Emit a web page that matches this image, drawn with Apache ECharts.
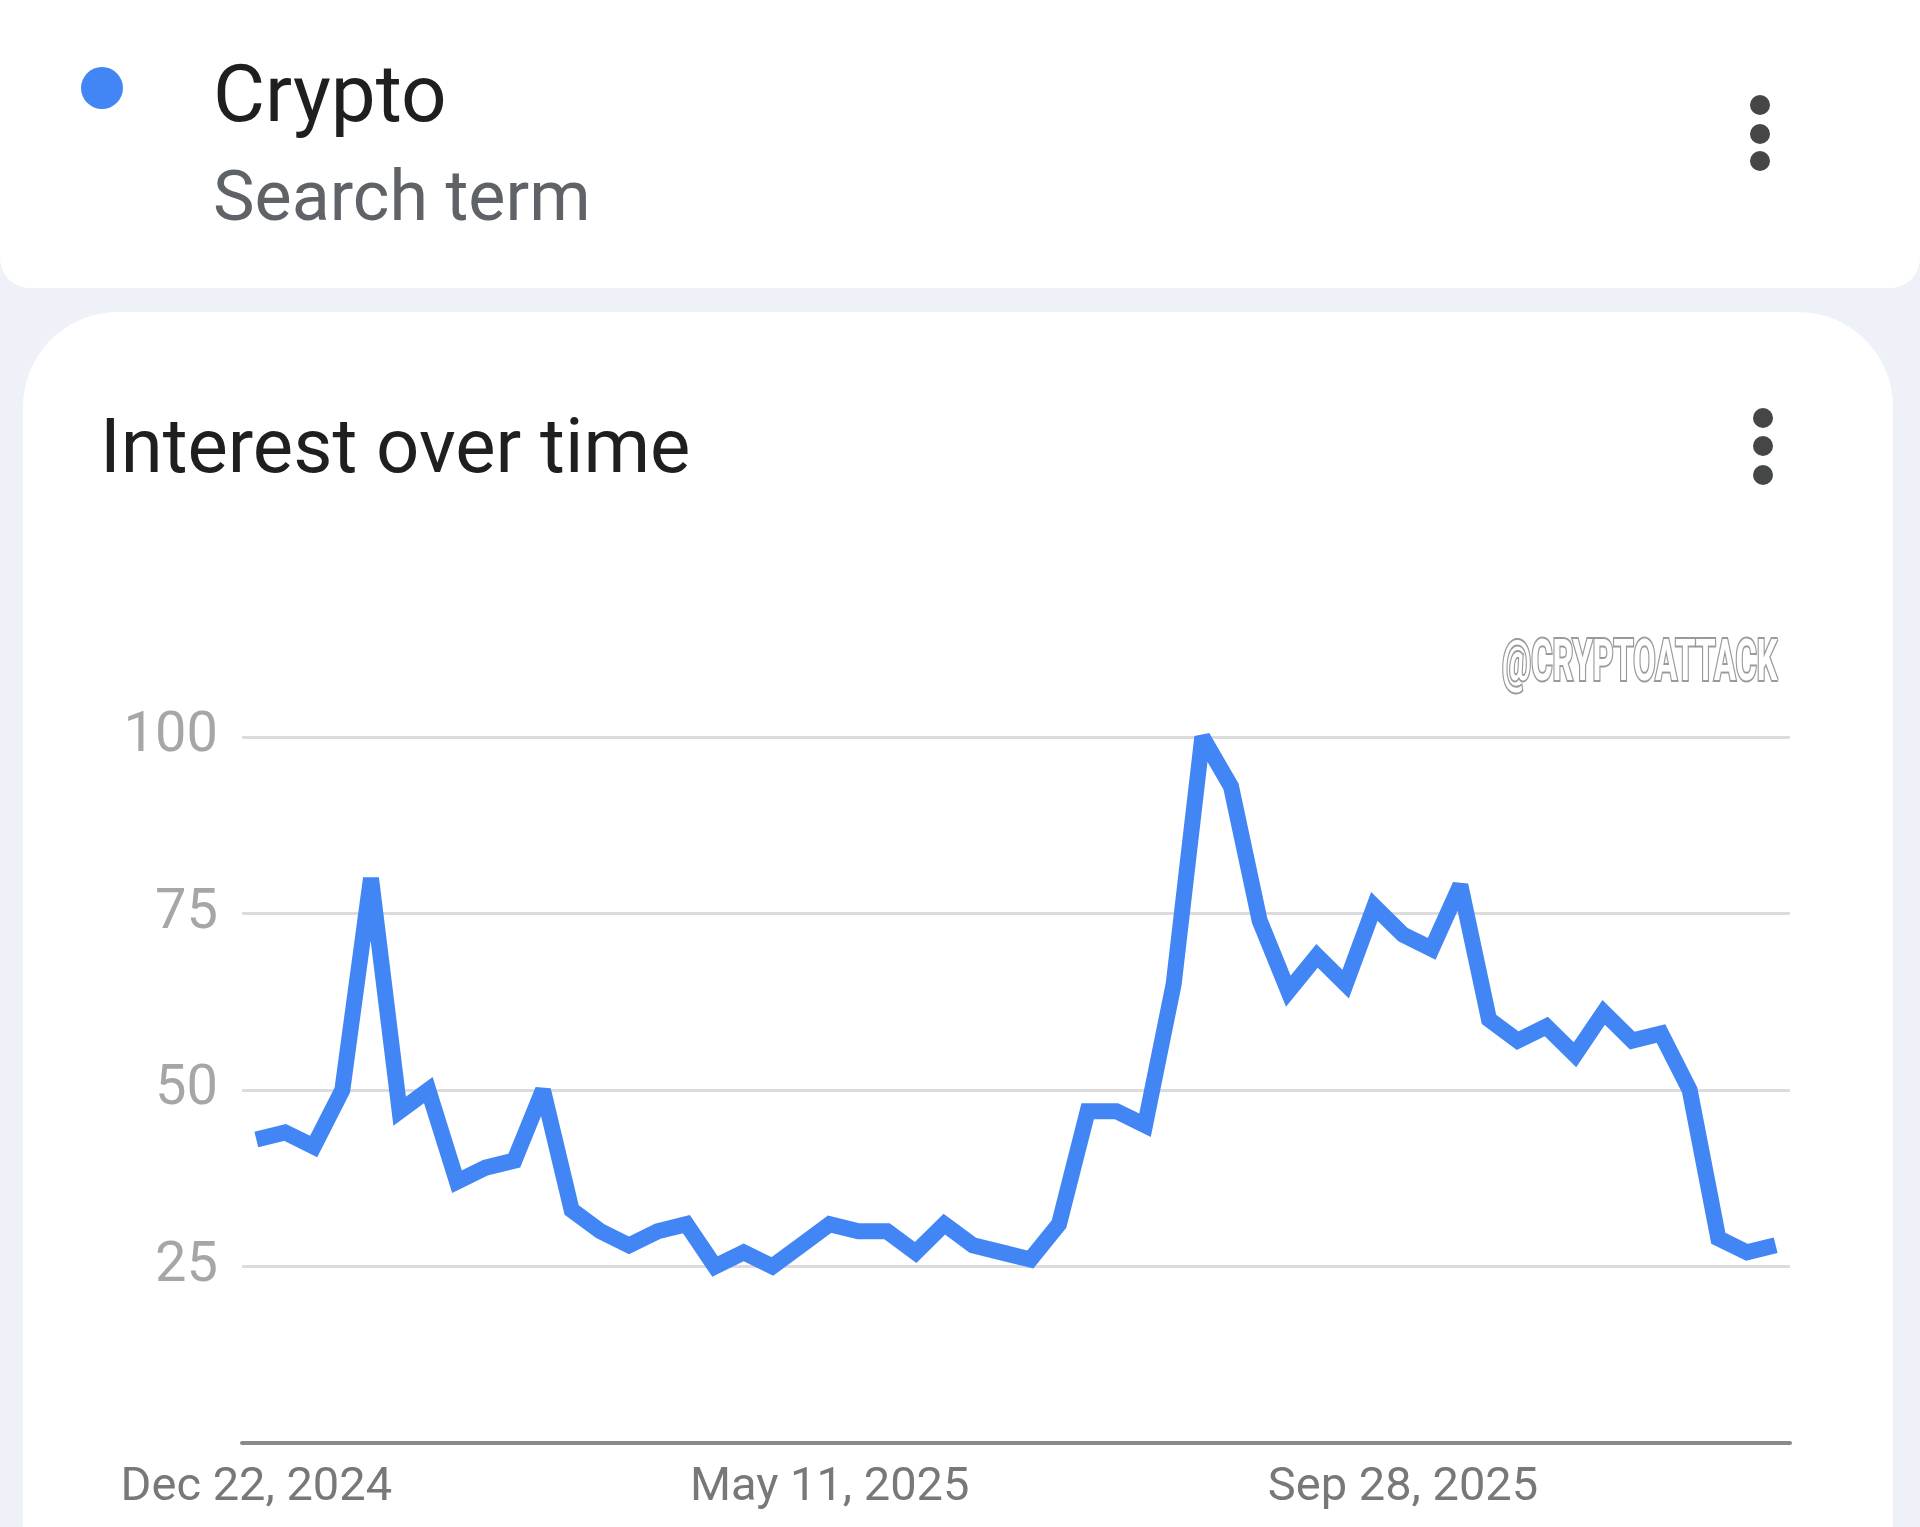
<!DOCTYPE html>
<html>
<head>
<meta charset="utf-8">
<title>Crypto - Interest over time</title>
<script src="https://cdn.jsdelivr.net/npm/echarts@6/dist/echarts.min.js"></script>
<style>
  html, body { margin: 0; padding: 0; background: #eef2f8; }
  #chart { width: 1920px; height: 1527px; }
</style>
</head>
<body>
<div id="chart"></div>
<script>
// Weekly dates (categories)
const weeks = [
  'Dec 22, 2024', 'Dec 29, 2024', 'Jan 5, 2025', 'Jan 12, 2025', 'Jan 19, 2025', 'Jan 26, 2025',
  'Feb 2, 2025', 'Feb 9, 2025', 'Feb 16, 2025', 'Feb 23, 2025', 'Mar 2, 2025', 'Mar 9, 2025',
  'Mar 16, 2025', 'Mar 23, 2025', 'Mar 30, 2025', 'Apr 6, 2025', 'Apr 13, 2025', 'Apr 20, 2025',
  'Apr 27, 2025', 'May 4, 2025', 'May 11, 2025', 'May 18, 2025', 'May 25, 2025', 'Jun 1, 2025',
  'Jun 8, 2025', 'Jun 15, 2025', 'Jun 22, 2025', 'Jun 29, 2025', 'Jul 6, 2025', 'Jul 13, 2025',
  'Jul 20, 2025', 'Jul 27, 2025', 'Aug 3, 2025', 'Aug 10, 2025', 'Aug 17, 2025', 'Aug 24, 2025',
  'Aug 31, 2025', 'Sep 7, 2025', 'Sep 14, 2025', 'Sep 21, 2025', 'Sep 28, 2025', 'Oct 5, 2025',
  'Oct 12, 2025', 'Oct 19, 2025', 'Oct 26, 2025', 'Nov 2, 2025', 'Nov 9, 2025', 'Nov 16, 2025',
  'Nov 23, 2025', 'Nov 30, 2025', 'Dec 7, 2025', 'Dec 14, 2025', 'Dec 21, 2025', 'Dec 28, 2025'
];

// Search interest for "Crypto"
const interest = [
  43, 44, 42, 50, 80, 47, 50, 37, 39, 40,
  50, 33, 30, 28, 30, 31, 25, 27, 25, 28,
  31, 30, 30, 27, 31, 28, 27, 26, 31, 47,
  47, 45, 65, 100, 93, 74, 64, 69, 65, 76,
  72, 70, 79, 60, 57, 59, 55, 61, 57, 58,
  50, 29, 27, 28
];

// Labels shown on the x axis
const xTickLabels = ['Dec 22, 2024', 'May 11, 2025', 'Sep 28, 2025'];

// Y axis ticks
const yTicks = [25, 50, 75, 100];

const termName = 'Crypto';
const termSub = 'Search term';
const cardTitle = 'Interest over time';
const watermark = '@CRYPTOATTACK';

const chart = echarts.init(document.getElementById('chart'), null, { renderer: 'canvas' });

const dots = (cx, ys) => ys.map(y => ({
  type: 'circle', z: 5,
  shape: { cx: cx, cy: y, r: 10 },
  style: { fill: '#444746' }
}));

const option = {
  backgroundColor: 'transparent',
  animation: false,
  graphic: [
    // top card
    { type: 'rect', z: -10, shape: { x: 0, y: -40, width: 1920, height: 328, r: [0, 0, 30, 30] }, style: { fill: '#ffffff' } },
    // chart card
    { type: 'rect', z: -10, shape: { x: 23, y: 312, width: 1870, height: 1400, r: [95, 95, 0, 0] }, style: { fill: '#ffffff' } },
    // legend dot
    { type: 'circle', z: 5, shape: { cx: 102, cy: 88, r: 21 }, style: { fill: '#4285f4' } },
    { type: 'text', z: 5, x: 213, y: 101, style: { text: termName, font: '80px Roboto', fill: '#1f1f1f', textAlign: 'left', textVerticalAlign: 'middle' } },
    { type: 'text', z: 5, x: 213, y: 202, style: { text: termSub, font: '70px Roboto', fill: '#5f6368', textAlign: 'left', textVerticalAlign: 'middle' } },
    { type: 'text', z: 5, x: 100, y: 453, style: { text: cardTitle, font: '76px Roboto', fill: '#1f1f1f', textAlign: 'left', textVerticalAlign: 'middle' } },
    ...dots(1760, [105, 134, 161]),
    ...dots(1763, [418, 446, 475]),
    // watermark
    { type: 'text', z: 5, x: 1502, y: 666, scaleX: 0.57, scaleY: 1,
      style: { text: watermark, font: 'bold 57px Roboto', fill: '#ffffff', stroke: '#9a9a9a', lineWidth: 4,
               textAlign: 'left', textVerticalAlign: 'middle',
               shadowColor: 'rgba(0,0,0,0.45)', shadowOffsetX: 2, shadowOffsetY: 3, shadowBlur: 2 } }
  ],
  grid: { left: 242, right: 130, top: 737, bottom: 84, containLabel: false },
  xAxis: {
    type: 'category',
    data: weeks,
    boundaryGap: true,
    axisTick: { show: false },
    axisLine: { show: true, lineStyle: { color: '#8a8a8a', width: 4 } },
    splitLine: { show: false },
    axisLabel: {
      interval: (idx, val) => xTickLabels.indexOf(val) !== -1,
      color: '#787878',
      fontFamily: 'Roboto',
      fontSize: 47,
      margin: 22,
      hideOverlap: false
    },
    z: 3
  },
  yAxis: {
    type: 'value',
    min: 0,
    max: 100,
    interval: 25,
    axisLine: { show: false },
    axisTick: { show: false },
    axisLabel: {
      formatter: v => (yTicks.indexOf(v) !== -1 ? String(v) : ''),
      color: '#a6a6a6',
      fontFamily: 'Roboto',
      fontSize: 56,
      margin: 24,
      padding: [12, 0, 0, 0]
    },
    splitLine: { show: true, lineStyle: { color: '#dcdcdc', width: 3 } }
  },
  series: [{
    type: 'line',
    name: termName,
    data: interest,
    symbol: 'none',
    smooth: false,
    lineStyle: { color: '#4285f4', width: 16, join: 'miter', miterLimit: 2, cap: 'butt' },
    z: 4
  }]
};

chart.setOption(option);
</script>
</body>
</html>
